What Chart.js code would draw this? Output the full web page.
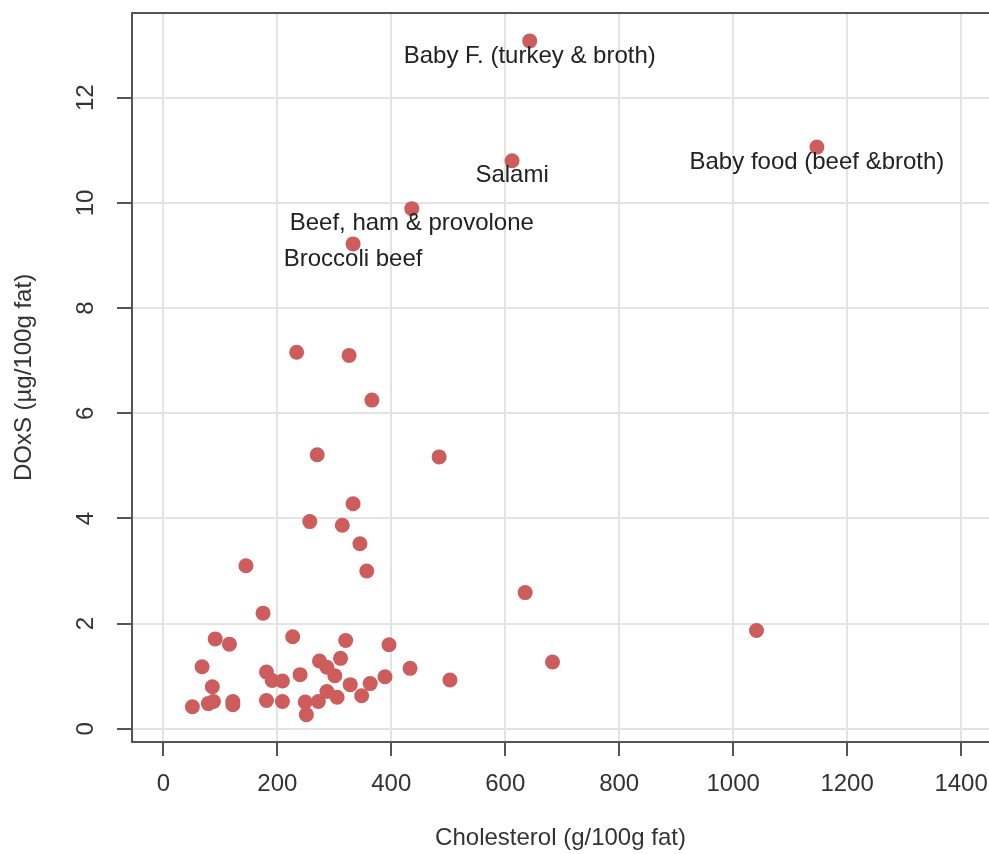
<!DOCTYPE html>
<html>
<head>
<meta charset="utf-8">
<script src="https://cdn.jsdelivr.net/npm/chart.js@4.4.1/dist/chart.umd.min.js"></script>
<style>
  html, body { margin: 0; padding: 0; background: #ffffff; }
  #wrap { width: 989px; height: 854px; }
</style>
</head>
<body>
<div id="wrap"><canvas id="doxs-chart" width="989" height="854"></canvas></div>
<script>
// Cholesterol (g/100g fat) per food sample
const cholesterol = [
  643, 612, 1147, 436, 333,
  234, 326, 366, 270, 484, 333, 257, 314, 345, 145,
  357, 635, 175, 1041, 227, 91, 116, 320, 396, 68,
  274, 287, 311, 433, 683, 181, 191, 209, 240, 301,
  328, 363, 389, 503, 86, 51, 79, 88, 122, 122,
  181, 209, 249, 251, 272, 287, 305, 348
];

// DOxS (µg/100g fat), same order as cholesterol
const doxs = [
  13.08, 10.80, 11.06, 9.89, 9.22,
  7.16, 7.10, 6.25, 5.21, 5.17, 4.28, 3.94, 3.87, 3.52, 3.10,
  3.00, 2.59, 2.20, 1.87, 1.75, 1.71, 1.61, 1.68, 1.60, 1.18,
  1.29, 1.17, 1.34, 1.15, 1.27, 1.08, 0.92, 0.91, 1.03, 1.01,
  0.84, 0.86, 0.99, 0.93, 0.80, 0.42, 0.48, 0.52, 0.52, 0.46,
  0.54, 0.52, 0.51, 0.27, 0.52, 0.71, 0.60, 0.63
];

// names written under the outliers (first five points)
const foodNames = [
  'Baby F. (turkey & broth)', 'Salami', 'Baby food (beef &broth)',
  'Beef, ham & provolone', 'Broccoli beef'
];

const xTicks = [0, 200, 400, 600, 800, 1000, 1200, 1400];
const yTicks = [0, 2, 4, 6, 8, 10, 12];

const FONT = "'Liberation Sans', Arial, Helvetica, sans-serif";
const TEXT = '#333333';
const AXIS = '#555555';
const GRID = '#e3e3e3';

const points = cholesterol.map((x, i) => ({ x: x, y: doxs[i] }));

// top edge of the box (left/bottom come from the axes)
const frameTop = {
  id: 'frameTop',
  afterDraw(chart) {
    const { ctx, chartArea } = chart;
    ctx.save();
    ctx.strokeStyle = AXIS;
    ctx.lineWidth = 2;
    ctx.beginPath();
    ctx.moveTo(chartArea.left - 1, chartArea.top);
    ctx.lineTo(chartArea.right, chartArea.top);
    ctx.stroke();
    ctx.restore();
  }
};

// text labels under the named points
const pointNames = {
  id: 'pointNames',
  afterDatasetsDraw(chart) {
    const { ctx } = chart;
    const meta = chart.getDatasetMeta(0);
    ctx.save();
    ctx.font = '24px ' + FONT;
    ctx.fillStyle = '#222222';
    ctx.textAlign = 'center';
    ctx.textBaseline = 'middle';
    foodNames.forEach((name, i) => {
      if (!name) return;
      const el = meta.data[i];
      ctx.fillText(name, el.x, el.y + 15);
    });
    ctx.restore();
  }
};

// no extra room for labels hanging past the plot edges
function noOverflow(s) {
  s.paddingLeft = 0;
  s.paddingRight = 0;
  s.paddingTop = 0;
  s.paddingBottom = 0;
}

const ctx = document.getElementById('doxs-chart').getContext('2d');

new Chart(ctx, {
  type: 'scatter',
  data: {
    datasets: [{
      data: points,
      backgroundColor: '#cd5c5c',
      borderWidth: 0,
      pointRadius: 7.5,
      pointHoverRadius: 7.5,
      clip: false
    }]
  },
  options: {
    responsive: false,
    animation: false,
    devicePixelRatio: 1,
    layout: {
      autoPadding: false,
      padding: { top: 13, right: 0, bottom: 0, left: 0 }
    },
    plugins: {
      legend: { display: false },
      tooltip: { enabled: false }
    },
    scales: {
      x: {
        type: 'linear',
        position: 'bottom',
        min: -55,
        max: 1449,
        afterBuildTicks: s => { s.ticks = xTicks.map(v => ({ value: v })); },
        afterFit: s => { s.height = 112; noOverflow(s); },
        grid: {
          color: GRID,
          lineWidth: 2,
          drawTicks: true,
          tickLength: 14,
          tickColor: AXIS,
          tickWidth: 2
        },
        border: { display: true, color: AXIS, width: 2 },
        ticks: {
          color: TEXT,
          font: { family: FONT, size: 24 },
          padding: 14,
          maxRotation: 0,
          autoSkip: false,
          callback: v => String(v)
        },
        title: {
          display: true,
          text: 'Cholesterol (g/100g fat)',
          color: TEXT,
          font: { family: FONT, size: 24 },
          padding: { top: 0, bottom: 1 }
        }
      },
      y: {
        type: 'linear',
        position: 'left',
        min: -0.25,
        max: 13.61,
        afterBuildTicks: s => { s.ticks = yTicks.map(v => ({ value: v })); },
        afterFit: s => { s.width = 132; noOverflow(s); },
        grid: {
          color: GRID,
          lineWidth: 2,
          drawTicks: true,
          tickLength: 15,
          tickColor: AXIS,
          tickWidth: 2
        },
        border: { display: true, color: AXIS, width: 2 },
        ticks: {
          color: TEXT,
          font: { family: FONT, size: 24 },
          minRotation: 90,
          maxRotation: 90,
          crossAlign: 'center',
          padding: 17,
          autoSkip: false,
          callback: v => String(v)
        },
        title: {
          display: true,
          text: 'DOxS (µg/100g fat)',
          color: TEXT,
          font: { family: FONT, size: 24 },
          padding: { top: 10, bottom: 0 }
        }
      }
    }
  },
  plugins: [frameTop, pointNames]
});
</script>
</body>
</html>
